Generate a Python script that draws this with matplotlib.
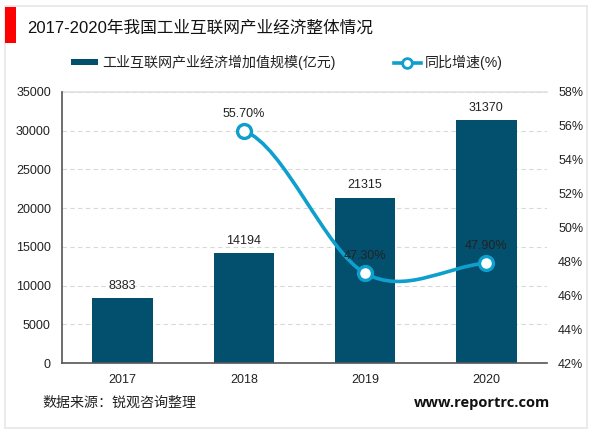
import matplotlib
matplotlib.use("Agg")
import matplotlib.pyplot as plt
from matplotlib.lines import Line2D
from matplotlib.patches import Patch, PathPatch, Rectangle
from matplotlib.path import Path

plt.rcParams["font.family"] = ["Liberation Sans", "Noto Sans CJK SC", "DejaVu Sans"]

years = ["2017", "2018", "2019", "2020"]
scale = [8383, 14194, 21315, 31370]
growth_years = [1, 2, 3]
growth = [55.7, 47.3, 47.9]
growth_labels = ["55.70%", "47.30%", "47.90%"]

BAR = "#02506E"
LINE = "#0F9FCD"
W, H = 600, 433

fig = plt.figure(figsize=(6, 4.33), dpi=100)

# outer frame and red title block
fig.add_artist(Rectangle((5 / W, 1 - 428 / H), 582 / W, 422 / H, transform=fig.transFigure,
                         fill=False, ec="#E6E6E6", lw=1.2))
fig.add_artist(Rectangle((5 / W, 1 - 43 / H), 11 / W, 36 / H, transform=fig.transFigure,
                         fc="#FF0000", ec="none"))
fig.text(27 / W, 1 - 28 / H, "2017-2020年我国工业互联网产业经济整体情况",
         fontsize=12, color="#111111", va="center")

ax = fig.add_axes([62 / W, 1 - 363 / H, 485 / W, 271 / H])
x = range(len(years))
bars = ax.bar(x, scale, width=0.5, color=BAR, zorder=2)
for i, v in zip(x, scale):
    ax.text(i, v + 850, str(v), ha="center", va="bottom", fontsize=9, color="#222222")

ax.set_xlim(-0.5, 3.5)
ax.set_ylim(0, 35000)
ax.set_yticks(range(0, 35001, 5000))
ax.set_xticks(list(x))
ax.set_xticklabels(years)
ax.tick_params(axis="both", length=0, labelsize=9, labelcolor="#222222")
ax.tick_params(axis="x", pad=8)
ax.tick_params(axis="y", pad=8)
ax.grid(axis="y", color="#D9D9D9", ls=(0, (4, 3)), lw=0.8, zorder=0)
ax.set_axisbelow(True)
for side in ["top", "right"]:
    ax.spines[side].set_visible(False)
ax.axhline(35000, color="#E0E0E0", lw=1.2, zorder=1, clip_on=False)
for side in ["left", "bottom"]:
    ax.spines[side].set_color("#555555")
    ax.spines[side].set_linewidth(1.2)

ax2 = ax.twinx()
ax2.set_ylim(42, 58)
ax2.set_yticks(range(42, 59, 2))
ax2.set_yticklabels([f"{t}%" for t in range(42, 59, 2)])
ax2.tick_params(axis="y", length=0, labelsize=9, labelcolor="#222222", pad=8)
for side in ax2.spines:
    ax2.spines[side].set_visible(False)

# smoothed line like the office chart, bezier handles come from the data
p = list(zip(growth_years, growth))
verts = [
    p[0],
    (p[0][0] + 0.33, p[0][1] - 0.8),
    (p[1][0] - 0.33, p[1][1] + (p[2][1] - p[0][1]) / -6),
    p[1],
    (p[1][0] + 0.33, p[1][1] + (p[2][1] - p[0][1]) / 6),
    (p[2][0] - 0.33, p[2][1] - (p[2][1] - p[1][1]) / 3),
    p[2],
]
codes = [Path.MOVETO] + [Path.CURVE4] * 6
ax2.add_patch(PathPatch(Path(verts, codes), fill=False, ec=LINE, lw=2.6, zorder=3))
ax2.plot(growth_years, growth, ls="none", marker="o", ms=10, mfc="white", mec=LINE, mew=2.4, zorder=4)
for gx, gy, label in zip(growth_years, growth, growth_labels):
    ax2.text(gx, gy + 0.65, label, ha="center", va="bottom", fontsize=9, color="#222222", zorder=5)

handles = [
    Patch(fc=BAR, ec="none", label="工业互联网产业经济增加值规模(亿元)"),
    Line2D([0], [0], color=LINE, lw=2.6, marker="o", ms=7, mfc="white", mec=LINE, mew=2,
           label="同比增速(%)"),
]
fig.legend(handles=handles, loc="center left", bbox_to_anchor=(64 / W, 1 - 62.5 / H), ncol=2,
           frameon=False, fontsize=10.1, handlelength=1.9, handleheight=0.35,
           handletextpad=0.3, columnspacing=4.2, borderpad=0, labelcolor="#222222")

fig.text(42 / W, 1 - 403 / H, "数据来源：锐观咨询整理", fontsize=10.1, color="#222222", va="center")
fig.text(550 / W, 1 - 403 / H, "www.reportrc.com", fontsize=10.5, fontweight="bold",
         color="#111111", va="center", ha="right", family=["Open Sans", "DejaVu Sans"])

fig.savefig("out.png", dpi=100)
